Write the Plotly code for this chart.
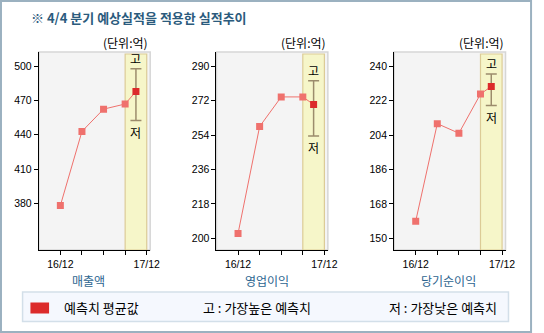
import plotly.graph_objects as go

W, H = 544, 333

# ---- data ----
periods = ["16/12", "17/03", "17/06", "17/09", "17/12"]
tick_labels = ["16/12", "", "", "", "17/12"]
metrics = ["매출액", "영업이익", "당기순이익"]

revenue_actual = [378, 443, 462.5, 467]
op_actual = [202.5, 258.5, 274, 274]
net_actual = [159, 210, 205, 225.5]
actuals = [revenue_actual, op_actual, net_actual]

forecast_avg = [478, 270, 229.5]
forecast_high = [498, 282.5, 236]
forecast_low = [452.5, 253.5, 219.5]

y_ticks = [
    [380, 410, 440, 470, 500],
    [200, 218, 236, 254, 272, 290],
    [150, 168, 186, 204, 222, 240],
]
y_ranges = [[339, 512.6], [193.9, 297.5], [143.9, 247.5]]

# ---- style ----
LINE_C = "#ef716d"
FC_C = "#dc2b2b"
ERR_C = "#9c8c6c"
NUM_FONT = "Liberation Sans, Arial, sans-serif"
KR_FONT = "Noto Sans CJK KR, sans-serif"

def px(x):
    return x / W

def py(y):
    return 1 - y / H

lefts = [39.5, 220.5, 401.5]
pw = 113.5
ptop, pbot = 52, 250
label_cx = [90, 272, 457]

fig = go.Figure()
shapes = []
annotations = []

for i in range(3):
    xa = "x" if i == 0 else f"x{i+1}"
    ya = "y" if i == 0 else f"y{i+1}"
    xs = list(range(len(actuals[i])))
    fx = len(actuals[i]) - 0.5
    # connecting line incl. forecast
    fig.add_trace(go.Scatter(
        x=xs + [fx], y=actuals[i] + [forecast_avg[i]],
        mode="lines", line=dict(color=LINE_C, width=1),
        xaxis=xa, yaxis=ya, showlegend=False, hoverinfo="skip"))
    fig.add_trace(go.Scatter(
        x=xs, y=actuals[i], mode="markers",
        marker=dict(symbol="square", size=7, color=LINE_C),
        xaxis=xa, yaxis=ya, showlegend=False))
    fig.add_trace(go.Scatter(
        x=[fx], y=[forecast_avg[i]], mode="markers",
        marker=dict(symbol="square", size=7, color=FC_C),
        error_y=dict(type="data", symmetric=False,
                     array=[forecast_high[i] - forecast_avg[i]],
                     arrayminus=[forecast_avg[i] - forecast_low[i]],
                     color=ERR_C, thickness=1.5, width=5.5),
        xaxis=xa, yaxis=ya, showlegend=False))

    dom_x = [px(lefts[i]), px(lefts[i] + pw)]
    dom_y = [py(pbot), py(ptop)]
    fig.update_layout(**{
        ("xaxis" if i == 0 else f"xaxis{i+1}"): dict(
            domain=dom_x, anchor=ya, range=[-1, 4.16],
            tickvals=list(range(len(periods))), ticktext=tick_labels,
            ticks="outside", ticklen=4, tickcolor="black",
            showline=True, linecolor="black", linewidth=1,
            showgrid=False, zeroline=False,
            tickfont=dict(family=NUM_FONT, size=10.5, color="black")),
        ("yaxis" if i == 0 else f"yaxis{i+1}"): dict(
            domain=dom_y, anchor=xa, range=y_ranges[i],
            tickvals=y_ticks[i],
            ticks="outside", ticklen=4, tickcolor="black",
            showline=True, linecolor="black", linewidth=1,
            showgrid=False, zeroline=False,
            tickfont=dict(family=NUM_FONT, size=10.5, color="black")),
    })
    # plot border (top/right light gray)
    shapes.append(dict(type="rect", xref="paper", yref="paper",
                       x0=dom_x[0], x1=dom_x[1], y0=dom_y[0], y1=dom_y[1],
                       line=dict(color="#d6d6d6", width=1.5), fillcolor="rgba(0,0,0,0)",
                       layer="below"))
    # forecast band
    shapes.append(dict(type="rect", xref=xa, yref=f"{ya} domain",
                       x0=len(actuals[i]) - 1, x1=len(actuals[i]), y0=0, y1=0.99,
                       fillcolor="#f6f6c9", line=dict(color="#dccb96", width=1.2),
                       layer="below"))
    # 고 / 저 labels
    annotations.append(dict(x=fx, y=forecast_high[i], xref=xa, yref=ya,
                            text="고", showarrow=False, yanchor="bottom", yshift=0,
                            font=dict(family=KR_FONT, size=12, color="black")))
    annotations.append(dict(x=fx, y=forecast_low[i], xref=xa, yref=ya,
                            text="저", showarrow=False, yanchor="top", yshift=-1,
                            font=dict(family=KR_FONT, size=12, color="black")))
    # unit label
    annotations.append(dict(x=px(lefts[i] + pw), y=py(43), xref="paper", yref="paper",
                            text="(단위:억)", showarrow=False, xanchor="right", yanchor="middle",
                            font=dict(family=KR_FONT, size=12, color="black")))
    # metric name
    annotations.append(dict(x=px(label_cx[i]), y=py(280), xref="paper", yref="paper",
                            text=metrics[i], showarrow=False, xanchor="center", yanchor="middle",
                            font=dict(family=KR_FONT, size=12, color="#2d6590")))

# title
annotations.append(dict(x=px(30), y=py(17.5), xref="paper", yref="paper",
                        text="<b>※ 4/4 분기 예상실적을 적용한 실적추이</b>", showarrow=False,
                        xanchor="left", yanchor="middle",
                        font=dict(family=KR_FONT, size=13, color="#2b5b7d")))

# outer border
shapes.append(dict(type="rect", xref="paper", yref="paper",
                   x0=px(1), x1=px(541), y0=py(332), y1=py(1),
                   line=dict(color="#9bb1c0", width=2), fillcolor="rgba(0,0,0,0)", layer="below"))

# legend box
shapes.append(dict(type="rect", xref="paper", yref="paper",
                   x0=px(23), x1=px(518), y0=py(321.5), y1=py(292),
                   line=dict(color="#d3dfe9", width=1.5), fillcolor="#f5f8fe", layer="below"))
shapes.append(dict(type="rect", xref="paper", yref="paper",
                   x0=px(31), x1=px(50), y0=py(313.5), y1=py(302.5),
                   line=dict(width=0), fillcolor=FC_C, layer="below"))
annotations.append(dict(x=px(63), y=py(307.5), xref="paper", yref="paper",
                        text="예측치 평균값", showarrow=False, xanchor="left", yanchor="middle",
                        font=dict(family=KR_FONT, size=13, color="black")))
annotations.append(dict(x=px(205), y=py(307.5), xref="paper", yref="paper",
                        text="고 : 가장높은 예측치", showarrow=False, xanchor="left", yanchor="middle",
                        font=dict(family=KR_FONT, size=13, color="black")))
annotations.append(dict(x=px(508), y=py(307.5), xref="paper", yref="paper",
                        text="저 : 가장낮은 예측치", showarrow=False, xanchor="right", yanchor="middle",
                        font=dict(family=KR_FONT, size=13, color="black")))

fig.update_layout(
    width=W, height=H, margin=dict(l=0, r=0, t=0, b=0),
    paper_bgcolor="white", plot_bgcolor="#f4f4f4",
    shapes=shapes, annotations=annotations, showlegend=False,
)

fig.write_html("out.html")
